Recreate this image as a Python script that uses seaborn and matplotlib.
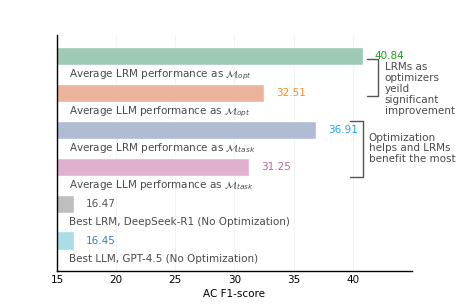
import matplotlib
matplotlib.use("Agg")
import matplotlib.pyplot as plt
import seaborn as sns
import pandas as pd

categories = [
    r"Average LRM performance as $\mathcal{M}_{opt}$",
    r"Average LLM performance as $\mathcal{M}_{opt}$",
    r"Average LRM performance as $\mathcal{M}_{task}$",
    r"Average LLM performance as $\mathcal{M}_{task}$",
    "Best LRM, DeepSeek-R1 (No Optimization)",
    "Best LLM, GPT-4.5 (No Optimization)",
]
values = [40.84, 32.51, 36.91, 31.25, 16.47, 16.45]
bar_colors = ["#9dc9b5", "#ebb49b", "#b1bbd3", "#dfb1cf", "#bebebe", "#aadee4"]
value_colors = ["#1a9e1a", "#ff8c1a", "#1ea3e6", "#b8649f", "#555555", "#3b7dbd"]
xticks = [15, 20, 25, 30, 35, 40]

sns.set_theme(style="white")
plt.rcParams["font.family"] = ["DejaVu Sans"]

df = pd.DataFrame({"cat": categories, "val": values})

fig = plt.figure(figsize=(4.57, 3.05), dpi=100)
ax = fig.add_axes([0.1247, 0.1115, 0.9015 - 0.1247, 0.885 - 0.1115])

sns.barplot(data=df, y="cat", x="val", hue="cat", palette=bar_colors,
            order=categories, hue_order=categories, orient="h",
            width=0.5, legend=False, ax=ax, saturation=1)

fs = 7.5
ax.set_xlim(15, 45)
ax.set_ylim(5.82, -0.57)
ax.set_xticks(xticks)
ax.set_yticks([])
ax.set_ylabel("")
ax.set_xlabel("AC F1-score", fontsize=fs, labelpad=3, color="black")
ax.tick_params(axis="x", labelsize=fs, length=0, pad=3, labelcolor="black")
ax.grid(axis="x", color="#f0f0f0", lw=0.6)
ax.set_axisbelow(True)
for s in ["top", "right"]:
    ax.spines[s].set_visible(False)
for s in ["left", "bottom"]:
    ax.spines[s].set_color("black")
    ax.spines[s].set_linewidth(1.0)

for i, (lab, v, c) in enumerate(zip(categories, values, value_colors)):
    ax.text(v + 1.0, i, f"{v:.2f}", color=c, fontsize=fs, va="center", ha="left")
    ax.text(16.0, i + 0.5, lab, color="#4a4a4a", fontsize=fs, va="center", ha="left")

# bracket 1
bk = dict(color="#555555", lw=1.0, clip_on=False)
ax.plot([41.2, 42.1, 42.1, 41.2], [0.08, 0.08, 1.08, 1.08], **bk)
ax.text(42.7, 0.17, "LRMs as\noptimizers\nyeild\nsignificant\nimprovement",
        color="#4a4a4a", fontsize=fs, va="top", ha="left", linespacing=1.1)
# bracket 2
ax.plot([39.8, 40.85, 40.85, 39.8], [1.76, 1.76, 3.27, 3.27], **bk)
ax.text(41.35, 2.5, "Optimization\nhelps and LRMs\nbenefit the most",
        color="#4a4a4a", fontsize=fs, va="center", ha="left", linespacing=1.1)

fig.savefig("out.png", dpi=100)
